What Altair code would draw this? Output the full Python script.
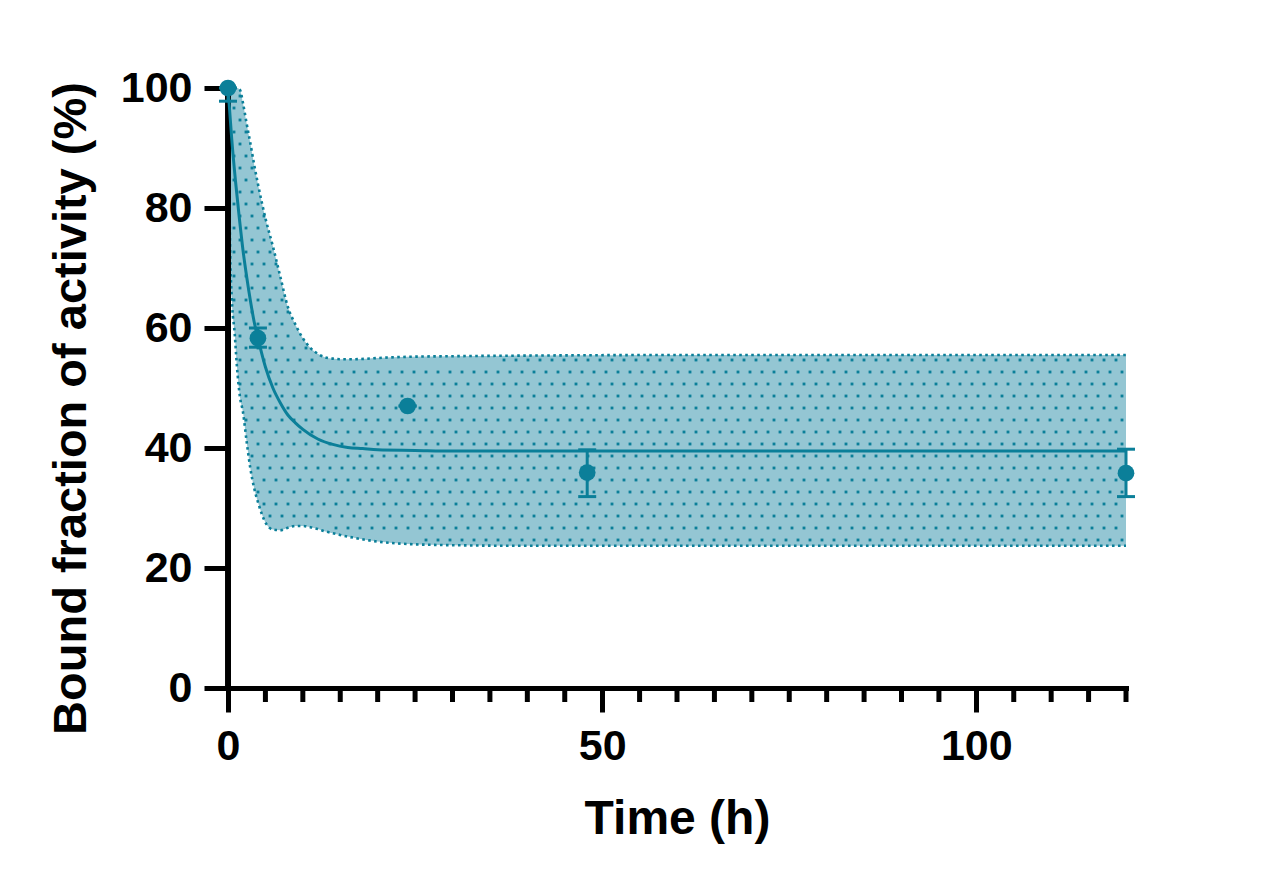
import altair as alt
import numpy as np
import pandas as pd

# ---- data ----
pts_t = [0, 4, 24, 48, 120]
pts_v = [100, 58.3, 47, 35.9, 35.8]
err_lo = [97.8, 56.8, 47, 31.9, 31.9]
err_hi = [100, 60.0, 47, 39.7, 39.8]

fit_t = [0, 0.5, 1, 1.5, 2, 2.5, 3, 3.5, 4, 5, 6, 7, 8, 9, 10, 12, 14, 16, 18, 20, 25, 30, 60, 120]
fit_v = [100, 91.5, 84.5, 78.5, 73, 68.5, 64.5, 61, 58.3, 53.5, 50, 47.5, 45.5, 44.2, 43.1,
         41.5, 40.6, 40.1, 39.9, 39.7, 39.6, 39.5, 39.5, 39.5]

band_t = [0, 0.15, 0.3, 0.5, 0.9, 1.2, 1.6, 2, 2.5, 3, 3.5, 4, 5, 6, 7, 8, 9, 10, 11, 12,
          13, 14, 15, 17, 20, 24, 30, 40, 60, 90, 120]
band_hi = [100, 100, 100, 100, 100, 100, 99.7, 97.5, 94, 90.7, 87.2, 84, 78.3, 73.6, 68.5,
           63.5, 60.6, 58.3, 56.7, 55.7, 55.1, 54.9, 54.8, 54.8, 55, 55.2, 55.3, 55.4, 55.5,
           55.5, 55.5]
band_lo = [100, 85, 72, 65, 59, 53.5, 48.5, 46, 41, 36.5, 33.3, 31, 27.6, 26.4, 26.3, 26.7,
           27, 27, 26.8, 26.5, 26.1, 25.8, 25.5, 25, 24.4, 24, 23.8, 23.7, 23.7, 23.7, 23.7]

x_major = [0, 50, 100]
x_minor = [v for v in range(5, 121, 5) if v not in x_major]
y_ticks = [0, 20, 40, 60, 80, 100]

DARK = "#0b7f99"
FILL = "#94c6d3"
FONT = "Liberation Sans"
W, H = 898, 600

pts = pd.DataFrame({"t": pts_t, "v": pts_v, "lo": err_lo, "hi": err_hi})
fit = pd.DataFrame({"t": fit_t, "v": fit_v})
band = pd.DataFrame({"t": band_t, "hi": band_hi, "lo": band_lo})
minor = pd.DataFrame({"t": x_minor})

# decorative dot texture filling the band (staggered grid, ~12 px pitch)
dx = 12 / (W / 120.0)
dy = 12 / (H / 100.0)
tex = []
for j in range(-24, 18):
    v = 54.667 - dy * j
    off = 0 if j % 2 == 0 else dx / 2
    tt = np.arange(off, 120, dx)
    lo_i = np.interp(tt, band_t, band_lo)
    hi_i = np.interp(tt, band_t, band_hi)
    keep = (v > lo_i + 0.7) & (v < hi_i - 0.7) & (tt > 0.5) & (tt < 119.6)
    for a in tt[keep]:
        tex.append((a, v))
tex = pd.DataFrame(tex, columns=["t", "v"])

xscale = alt.Scale(domain=[0, 120], nice=False, zero=False)
yscale = alt.Scale(domain=[0, 100], nice=False)

xaxis = alt.Axis(values=x_major, tickSize=24, tickWidth=5, domainWidth=5,
                 domainColor="black", tickColor="black", labelColor="black",
                 labelFont=FONT, labelFontSize=43, labelFontWeight="bold", labelFlush=False,
                 labelPadding=13, title="Time (h)", titleFont=FONT, titleFontSize=48,
                 titleFontWeight="bold", titleColor="black", titlePadding=27, grid=False,
                 domainCap="square")
yaxis = alt.Axis(values=y_ticks, tickSize=24, tickWidth=5, domainWidth=5,
                 domainColor="black", tickColor="black", labelColor="black",
                 labelFont=FONT, labelFontSize=43, labelFontWeight="bold", labelFlush=False,
                 labelPadding=12, title="Bound fraction of activity (%)", titleFont=FONT,
                 titleFontSize=47, titleFontWeight="bold", titleColor="black",
                 titleX=-143, titleY=320, titleBaseline="alphabetic", grid=False,
                 domainCap="square")

X = alt.X("t:Q", scale=xscale, axis=xaxis)

def Y(field):
    return alt.Y(f"{field}:Q", scale=yscale, axis=yaxis)

band_fill = alt.Chart(band).mark_area(color=FILL, opacity=1, interpolate="monotone").encode(
    x=X, y=Y("hi"), y2="lo")
texture = alt.Chart(tex).mark_square(color=DARK, size=8, opacity=1).encode(x=X, y=Y("v"))
upper = alt.Chart(band).mark_line(color=DARK, strokeWidth=2.6, strokeDash=[2.6, 3.4],
                                  interpolate="monotone").encode(x=X, y=Y("hi"))
lower = alt.Chart(band).mark_line(color=DARK, strokeWidth=2.6, strokeDash=[2.6, 3.4],
                                  interpolate="monotone").encode(x=X, y=Y("lo"))
yline = alt.Chart(pts).mark_rule(color="black", strokeWidth=5).encode(
    x=alt.datum(0, scale=xscale), y=alt.datum(0, scale=yscale), y2=alt.datum(100))
minor_ticks = alt.Chart(minor).mark_rule(color="black", strokeWidth=5).encode(
    x=X, y=alt.value(H), y2=alt.value(H + 14))
curve = alt.Chart(fit).mark_line(color=DARK, strokeWidth=3, interpolate="monotone").encode(
    x=X, y=Y("v"))
ebar = alt.Chart(pts).mark_rule(color=DARK, strokeWidth=3).encode(x=X, y=Y("lo"), y2="hi")
cap_lo = alt.Chart(pts).mark_tick(color=DARK, orient="horizontal", size=18, thickness=3,
                                  opacity=1).encode(x=X, y=Y("lo"))
cap_hi = alt.Chart(pts).mark_tick(color=DARK, orient="horizontal", size=18, thickness=3,
                                  opacity=1).encode(x=X, y=Y("hi"))
points = alt.Chart(pts).mark_circle(color=DARK, size=280, opacity=1).encode(x=X, y=Y("v"))

chart = alt.layer(band_fill, texture, upper, lower, yline, minor_ticks, curve, ebar,
                  cap_lo, cap_hi, points).properties(
    width=W, height=H,
    background="white",
    autosize=alt.AutoSizeParams(type="none"),
    padding={"left": 220, "top": 80, "right": 120, "bottom": 190},
).configure_view(strokeWidth=0, stroke=None)

chart.save("out.html", embed_options={"renderer": "svg", "actions": False})
